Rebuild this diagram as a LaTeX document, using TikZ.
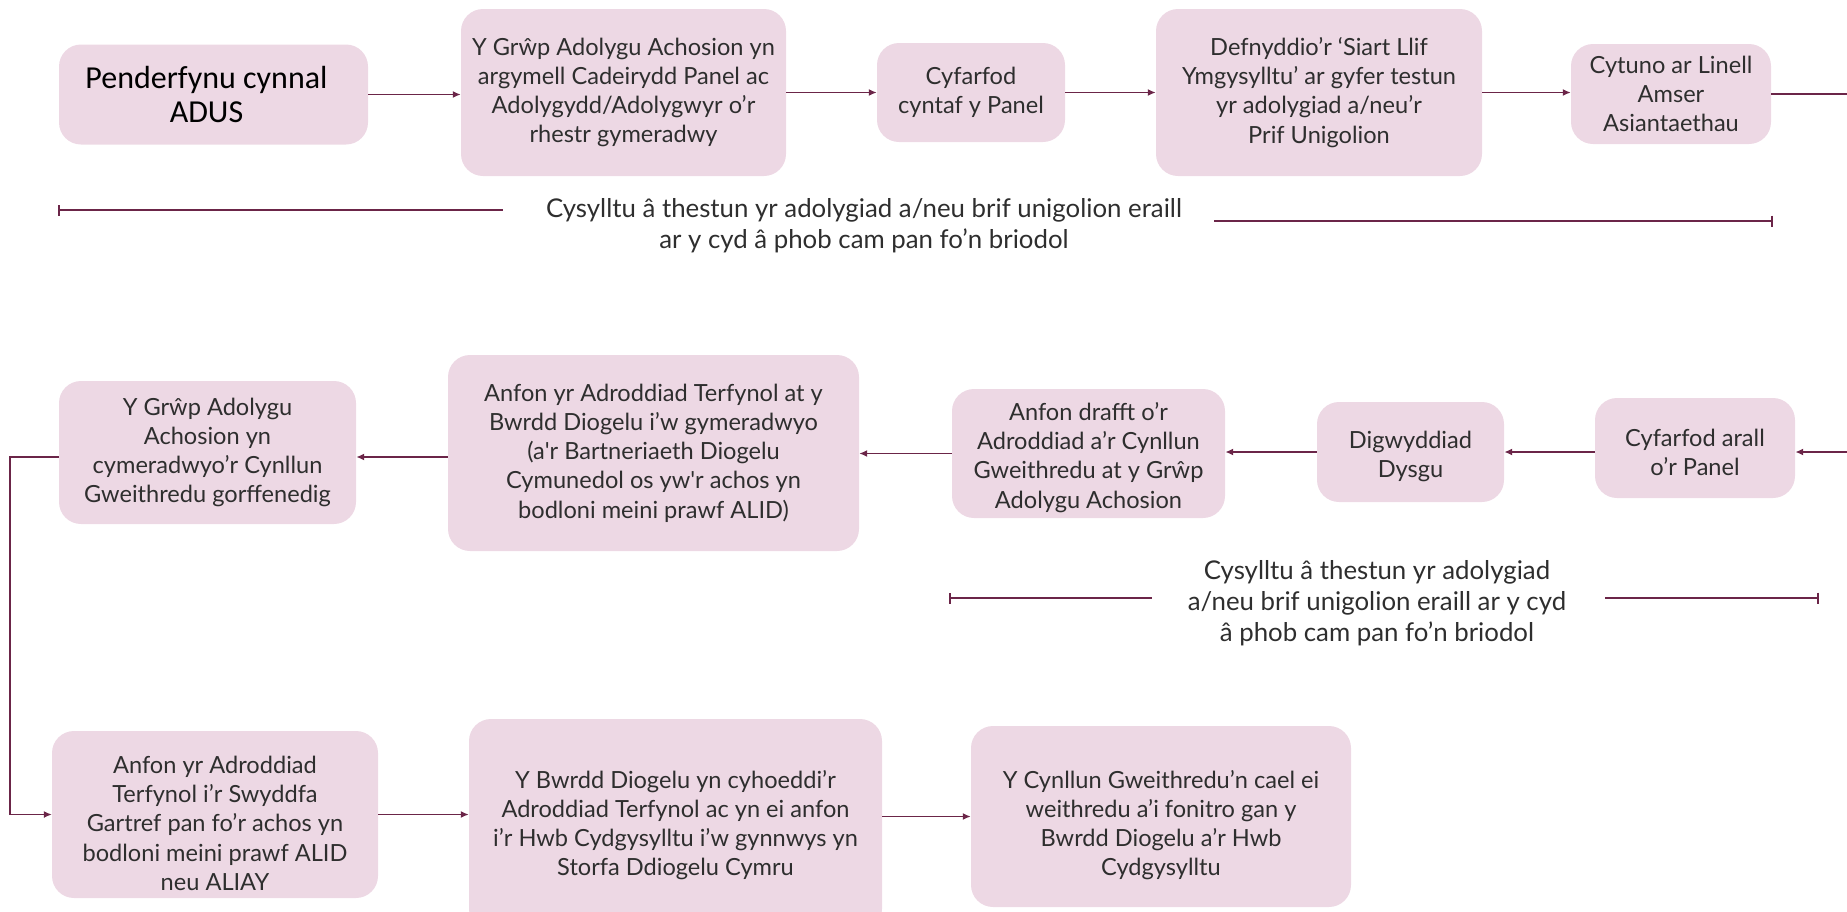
\documentclass[tikz,border=0pt]{standalone}
\usepackage{fontspec}
\setmainfont{Lato}
\newfontfamily\headfont{Carlito}
\usetikzlibrary{arrows.meta}
\definecolor{boxfill}{HTML}{EDD8E4}
\definecolor{linec}{HTML}{6B2548}
\definecolor{txt}{HTML}{2E2E2E}
\newcommand{\lowr}[1]{\rule{0pt}{#1}}
\begin{document}
\begin{tikzpicture}[x=1pt,y=-1pt,
  box/.style={fill=boxfill, rounded corners=22pt, align=center, inner sep=0pt, text=txt, font=\fontsize{23.6}{29.2}\selectfont},
  conn/.style={draw=linec, line width=1.8pt, -{Latex[length=8pt,width=7pt]}},
  plain/.style={draw=linec, line width=1.8pt},
  note/.style={align=center, text=txt, inner sep=0pt, font=\fontsize{25.8}{31}\selectfont}]
\useasboundingbox (0,0) rectangle (1847,911);
% row 1
\node[box, minimum width=309pt, minimum height=100pt, text=black, font=\headfont\fontsize{32}{34}\selectfont] (a) at (213.5,94.5) {Penderfynu cynnal\hspace*{14pt}\\ADUS\hspace*{14pt}};
\node[box, minimum width=325pt, minimum height=167pt] (b) at (623.5,92.5) {Y Grŵp Adolygu Achosion yn\\argymell Cadeirydd Panel ac\\Adolygydd/Adolygwyr o’r\\rhestr gymeradwy};
\node[box, minimum width=188pt, minimum height=99pt] (c) at (971,92.5) {Cyfarfod\\cyntaf y Panel};
\node[box, minimum width=326pt, minimum height=167pt] (d) at (1319,92.5) {Defnyddio’r ‘Siart Llif\\Ymgysylltu’ ar gyfer testun\\yr adolygiad a/neu’r\\Prif Unigolion};
\node[box, minimum width=200pt, minimum height=100pt] (e) at (1671,94) {Cytuno ar Linell\\Amser\\Asiantaethau};
\draw[conn] (a.east) -- (a.east -| b.west);
\draw[conn] (b.east) -- (b.east -| c.west);
\draw[conn] (c.east) -- (c.east -| d.west);
\draw[conn] (d.east) -- (d.east -| e.west);
\coordinate (eout) at (1847,94);
\draw[plain] (e.east) -- (eout);
% note 1
\node[note] (n1) at (864,226) {Cysylltu â thestun yr adolygiad a/neu brif unigolion eraill\\ar y cyd â phob cam pan fo’n briodol};
\coordinate (n1l) at (58,210);
\coordinate (n1la) at (503,210);
\coordinate (n1r) at (1214,221);
\coordinate (n1ra) at (1773,221);
\draw[plain, {Bar[width=11pt]}-] (n1l) -- (n1la);
\draw[plain, -{Bar[width=11pt]}] (n1r) -- (n1ra);
% row 2
\node[box, minimum width=200pt, minimum height=100pt] (f) at (1695,448) {\lowr{26pt}Cyfarfod arall\\o’r Panel};
\node[box, minimum width=187pt, minimum height=100pt] (g) at (1410.5,452) {\lowr{26pt}Digwyddiad\\Dysgu};
\node[box, minimum width=273pt, minimum height=129pt] (h) at (1088.5,453.5) {\lowr{26pt}Anfon drafft o’r\\Adroddiad a’r Cynllun\\Gweithredu at y Grŵp\\Adolygu Achosion};
\node[box, minimum width=411pt, minimum height=196pt] (i) at (653.5,453) {Anfon yr Adroddiad Terfynol at y\\Bwrdd Diogelu i’w gymeradwyo\\(a\textquotesingle r Bartneriaeth Diogelu\\Cymunedol os yw\textquotesingle r achos yn\\bodloni meini prawf ALID)};
\node[box, minimum width=297pt, minimum height=143pt] (j) at (207.5,452.5) {Y Grŵp Adolygu\\Achosion yn\\cymeradwyo’r Cynllun\\Gweithredu gorffenedig};
\coordinate (fin) at (1847,452);
\draw[conn] (fin) -- (fin -| f.east);
\draw[conn] (f.west |- g.east) -- (g.east);
\draw[conn] (g.west) -- (g.west -| h.east);
\draw[conn] (h.west) -- (h.west -| i.east);
\coordinate (ij) at (0,457);
\draw[conn] (i.west |- ij) -- (j.east |- ij);
% note 2
\node[note] (n2) at (1377,603) {Cysylltu â thestun yr adolygiad\\a/neu brif unigolion eraill ar y cyd\\â phob cam pan fo’n briodol};
\coordinate (n2l) at (949,598);
\coordinate (n2la) at (1152,598);
\coordinate (n2r) at (1605,598);
\coordinate (n2ra) at (1819,598);
\draw[plain, {Bar[width=11pt]}-] (n2l) -- (n2la);
\draw[plain, -{Bar[width=11pt]}] (n2r) -- (n2ra);
% row 3
\node[box, minimum width=326pt, minimum height=167pt] (k) at (215,814.5) {\lowr{35pt}Anfon yr Adroddiad\\Terfynol i’r Swyddfa\\Gartref pan fo’r achos yn\\bodloni meini prawf ALID\\neu ALIAY};
\node[box, minimum width=413pt, minimum height=212pt] (l) at (675.5,825) {Y Bwrdd Diogelu yn cyhoeddi’r\\Adroddiad Terfynol ac yn ei anfon\\i’r Hwb Cydgysylltu i’w gynnwys yn\\Storfa Ddiogelu Cymru};
\node[box, minimum width=380pt, minimum height=181pt] (m) at (1161,816.5) {\lowr{35pt}Y Cynllun Gweithredu’n cael ei\\weithredu a’i fonitro gan y\\Bwrdd Diogelu a’r Hwb\\Cydgysylltu};
\coordinate (corner) at (10,457);
\draw[conn, line width=1.2pt] (j.west |- corner) -- (corner) |- (k.west);
\draw[conn] (k.east) -- (k.east -| l.west);
\draw[conn] (l.east |- m.west) -- (m.west);
\end{tikzpicture}
\end{document}
